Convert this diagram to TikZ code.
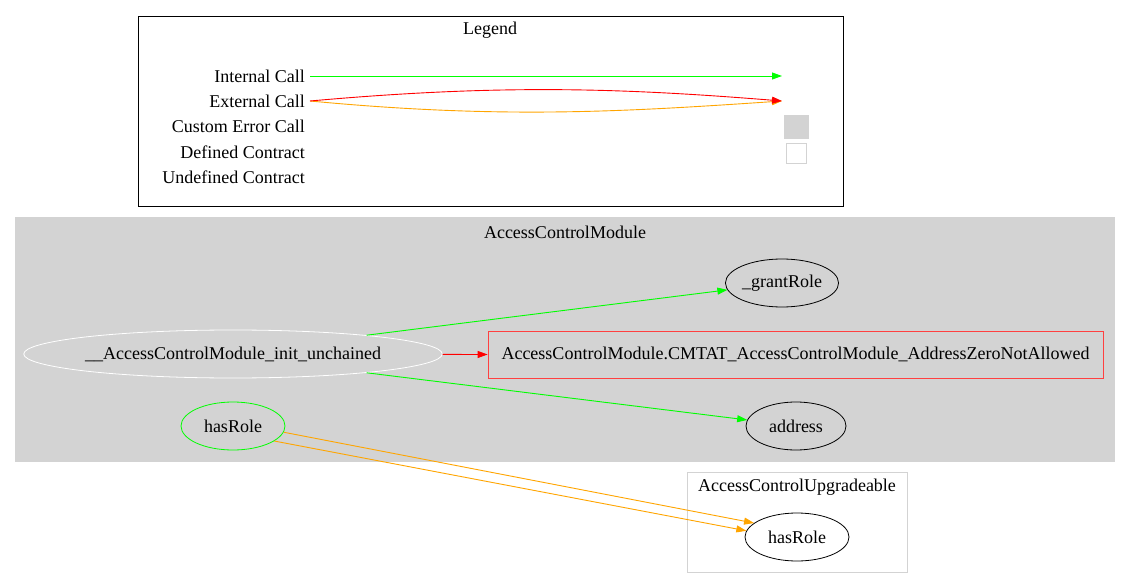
\documentclass[tikz,border=0pt]{standalone}
\usepackage{fontspec}
\setmainfont{Liberation Serif}
\usetikzlibrary{shapes.geometric,arrows.meta}
\definecolor{gvgreen}{HTML}{00FF00}
\definecolor{gvred}{HTML}{FF0000}
\definecolor{gvorange}{HTML}{FFA500}
\definecolor{gvgray}{HTML}{D3D3D3}
\tikzset{
  gvtip/.style={-{Triangle[length=10pt,width=7pt]}},
  fn/.style={ellipse,draw=black,line width=0.8pt,inner sep=0pt,minimum height=48pt,font=\fontsize{18pt}{20pt}\selectfont},
  lbl/.style={inner sep=0pt,font=\fontsize{18pt}{20pt}\selectfont},
  internal/.style={gvtip,draw=gvgreen,line width=0.9pt},
  external/.style={gvtip,draw=gvorange,line width=0.9pt},
  errcall/.style={gvtip,draw=gvred,line width=0.9pt},
}
\begin{document}
\begin{tikzpicture}[x=1pt,y=-1pt]
\useasboundingbox (0,0) rectangle (1130,588);
\fill[white] (0,0) rectangle (1130,588);
% Legend cluster
\draw[black,line width=0.8pt] (138,16) rectangle (843,206);
\node[lbl] (legendt) at (490,30) {Legend};
\node[lbl,anchor=east] (lint) at (305,76) {Internal Call};
\node[lbl,anchor=east] (lext) at (305,101) {External Call};
\node[lbl,anchor=east] (lerr) at (305,126) {Custom Error Call};
\node[lbl,anchor=east] (ldef) at (305,152) {Defined Contract};
\node[lbl,anchor=east] (lund) at (305,177) {Undefined Contract};
\coordinate (eint) at (782,76);
\coordinate (eext) at (782,101);
\draw[internal] ([xshift=5pt]lint.east) -- (eint);
\draw[external] ([xshift=5pt]lext.east) .. controls (500,119) and (620,112) .. (eext);
\draw[errcall] ([xshift=5pt]lext.east) .. controls (500,84) and (620,88) .. (eext);
\node[fill=gvgray,minimum width=25pt,minimum height=24pt,inner sep=0pt] (errbox) at (796,127) {};
\node[draw=gvgray,fill=white,line width=0.8pt,minimum width=20pt,minimum height=20pt,inner sep=0pt] (defbox) at (796,153) {};
% AccessControlModule cluster
\fill[gvgray] (15,217) rectangle (1115,462);
\node[lbl] (acmt) at (565,232) {AccessControlModule};
\node[fn,draw=white,fill=gvgray,minimum width=414pt] (init) at (233,354) {\_\_AccessControlModule\_init\_unchained};
\node[fn,fill=gvgray,minimum width=108pt] (grant) at (782,283) {\_grantRole};
\node[rectangle,draw=gvred!75,line width=0.8pt,fill=gvgray,minimum width=615pt,minimum height=47pt,inner sep=0pt,font=\fontsize{18pt}{20pt}\selectfont] (err) at (795.5,354.5) {AccessControlModule.CMTAT\_AccessControlModule\_AddressZeroNotAllowed};
\node[fn,fill=gvgray,minimum width=100pt] (addr) at (796,426) {address};
\node[fn,draw=gvgreen,fill=gvgray,minimum width=104pt] (hr) at (233,426) {hasRole};
% AccessControlUpgradeable cluster
\draw[gvgray,line width=0.8pt] (687,472) rectangle (907,572);
\node[lbl] (acut) at (797,487) {AccessControlUpgradeable};
\node[fn,fill=white,minimum width=104pt] (hr2) at (797,537) {hasRole};
% edges
\draw[internal] (init.8.5) -- (grant);
\draw[errcall] (init) -- (err.west);
\draw[internal] (init.-8.5) -- (addr);
\draw[external] (hr.-7) -- (hr2.162);
\draw[external] (hr.-20) -- (hr2.173);
\end{tikzpicture}
\end{document}
